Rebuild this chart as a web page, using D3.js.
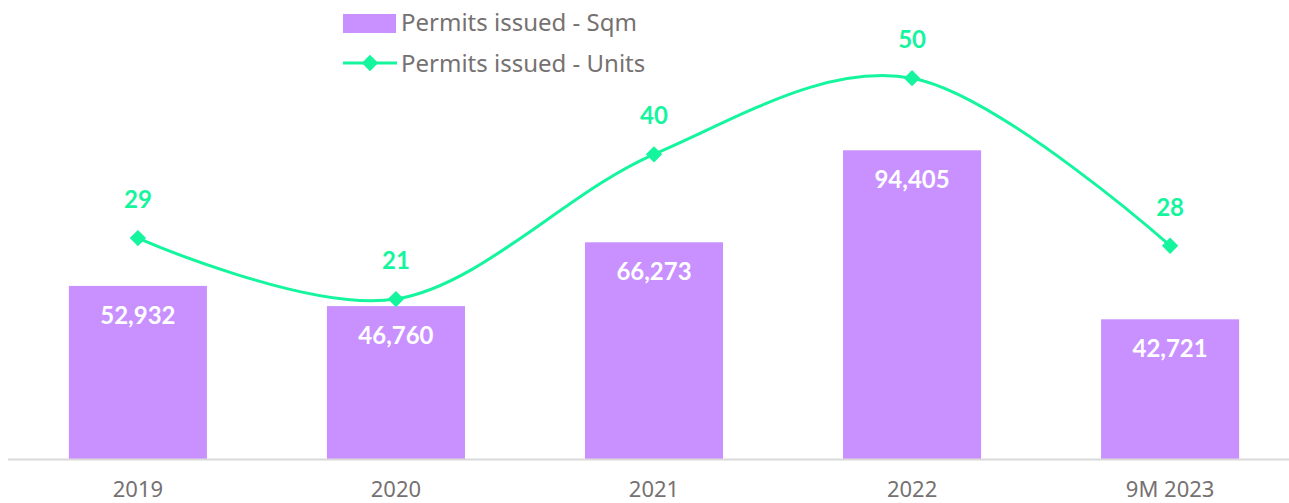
<!DOCTYPE html>
<html><head><meta charset="utf-8">
<script src="https://cdn.jsdelivr.net/npm/d3@7"></script>
<style>body{margin:0;background:#fff}svg{display:block}</style>
</head><body>
<script>
const categories = ["2019","2020","2021","2022","9M 2023"];
const sqmValues = [52932, 46760, 66273, 94405, 42721];
const unitValues = [29, 21, 40, 50, 28];
const seriesNames = ["Permits issued - Sqm", "Permits issued - Units"];

const W = 1289, H = 503;
const barColor = "#C891FF", lineColor = "#14F59E", textColor = "#767171";
const font = "'Noto Sans', sans-serif";
const boldFont = "Lato, 'Noto Sans', sans-serif";

const svg = d3.select("body").append("svg").attr("width", W).attr("height", H);

const x = d3.scaleBand().domain(categories).range([9, 1299]).paddingInner(0.465).paddingOuter(0.232);
const yBar = d3.scaleLinear().domain([0, 100000]).range([459, 132]);
const yLine = d3.scaleLinear().domain([0, 60]).range([459, 2]);
const cx = d => x(d) + x.bandwidth() / 2;

// bars
svg.selectAll("rect.bar").data(categories).join("rect")
  .attr("x", d => x(d)).attr("width", x.bandwidth())
  .attr("y", (d, i) => yBar(sqmValues[i]))
  .attr("height", (d, i) => yBar(0) - yBar(sqmValues[i]))
  .attr("fill", barColor);

// axis
const axis = svg.append("g").attr("transform", "translate(0,459)")
  .call(d3.axisBottom(x).tickSize(0).tickPadding(22));
axis.select(".domain").attr("d", "M8,0.5H1289").attr("stroke", "#D9D9D9").attr("stroke-width", 2);
axis.selectAll("text").attr("font-family", font).attr("font-size", 22).attr("fill", textColor);

// bar labels
svg.selectAll("text.bl").data(categories).join("text")
  .attr("x", d => cx(d)).attr("y", (d, i) => yBar(sqmValues[i]) + 38)
  .attr("text-anchor", "middle").attr("font-family", boldFont).attr("font-weight", "bold")
  .attr("font-size", 24).attr("fill", "#fff")
  .text((d, i) => d3.format(",")(sqmValues[i]));

// line
const line = d3.line().x(d => cx(d)).y((d, i) => yLine(unitValues[i])).curve(d3.curveCardinal.tension(0));
svg.append("path").datum(categories).attr("d", line).attr("fill", "none")
  .attr("stroke", lineColor).attr("stroke-width", 3);

const diamond = d3.symbol().type(d3.symbolDiamond2).size(170);
svg.selectAll("path.pt").data(categories).join("path")
  .attr("transform", (d, i) => `translate(${cx(d)},${yLine(unitValues[i])})`)
  .attr("d", diamond).attr("fill", lineColor);

svg.selectAll("text.ll").data(categories).join("text")
  .attr("x", d => cx(d)).attr("y", (d, i) => yLine(unitValues[i]) - 30)
  .attr("text-anchor", "middle").attr("font-family", boldFont).attr("font-weight", "bold")
  .attr("font-size", 24).attr("fill", lineColor)
  .text((d, i) => unitValues[i]);

// legend
const lg = svg.append("g");
lg.append("rect").attr("x", 343).attr("y", 14).attr("width", 53).attr("height", 19).attr("fill", barColor);
lg.append("text").attr("x", 401).attr("y", 31).text(seriesNames[0]);
lg.append("line").attr("x1", 343).attr("x2", 397).attr("y1", 63).attr("y2", 63).attr("stroke", lineColor).attr("stroke-width", 3);
lg.append("path").attr("transform", "translate(370,63)").attr("d", diamond).attr("fill", lineColor);
lg.append("text").attr("x", 401).attr("y", 72).text(seriesNames[1]);
lg.selectAll("text").attr("font-family", font).attr("font-size", 24).attr("fill", textColor);
</script>
</body></html>
